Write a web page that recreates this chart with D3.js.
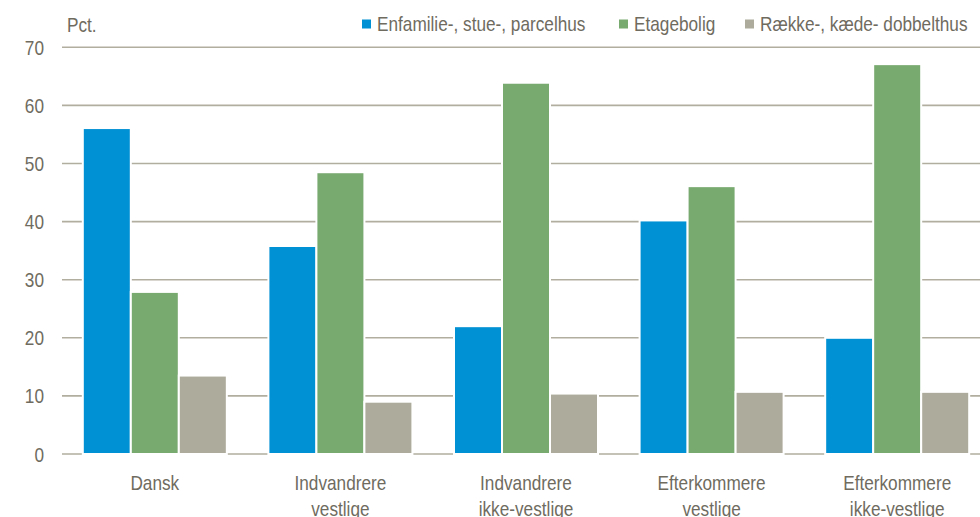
<!DOCTYPE html>
<html>
<meta charset="utf-8">
<style>
    body { margin: 0; background: #fff; }
    svg { display: block; font-family: "Liberation Sans", Arial, sans-serif; }
    .grid line { stroke: #b1ae9f; stroke-width: 1.6px; }
    .lbl { fill: #6f6c5f; font-size: 21px; }
    .bar { stroke: #fff; stroke-width: 2px; }
</style>
<body>
<script src="https://d3js.org/d3.v7.min.js"></script>
<script>

    var width = 980,
        height = 517;

    var categories = [
        ["Dansk"],
        ["Indvandrere", "vestlige"],
        ["Indvandrere", "ikke-vestlige"],
        ["Efterkommere", "vestlige"],
        ["Efterkommere", "ikke-vestlige"]
    ];
    var seriesNames = ["Enfamilie-, stue-, parcelhus", "Etagebolig", "Række-, kæde- dobbelthus"];
    var colors = ["#0090d4", "#78a96f", "#adab9b"];

    var enfamilie = [56.1, 35.8, 22.0, 40.2, 20.0];
    var etagebolig = [27.9, 48.5, 63.9, 46.1, 67.1];
    var raekke = [13.5, 9.0, 10.4, 10.7, 10.7];
    var yTicks = [0, 10, 20, 30, 40, 50, 60, 70];

    var series = [enfamilie, etagebolig, raekke];

    // narrow font is missing, so squeeze the text horizontally
    var squeeze = 0.82;
    function place(x, y) {
        return "translate(" + x + "," + y + ") scale(" + squeeze + ",1)";
    }

    var svg = d3.select("body").append("svg")
        .attr("width", width)
        .attr("height", height);

    var x = d3.scaleBand()
        .domain(d3.range(categories.length))
        .range([62, 990])
        .paddingInner(0.2241)
        .paddingOuter(0.1121);

    var xs = d3.scaleBand()
        .domain(d3.range(series.length))
        .range([0, x.bandwidth()]);

    var y = d3.scaleLinear()
        .domain([0, 70])
        .range([454, 47.3]);

    // gridlines
    svg.append("g").attr("class", "grid")
        .selectAll("line")
        .data(yTicks)
        .enter().append("line")
        .attr("x1", 62)
        .attr("x2", width)
        .attr("y1", function (d) { return y(d); })
        .attr("y2", function (d) { return y(d); });

    // tick labels
    svg.append("g")
        .selectAll("text")
        .data(yTicks)
        .enter().append("text")
        .attr("class", "lbl")
        .attr("transform", function (d) { return place(44, y(d)); })
        .attr("dy", "0.36em")
        .attr("text-anchor", "end")
        .text(function (d) { return d; });

    svg.append("text")
        .attr("class", "lbl")
        .attr("transform", place(67, 32))
        .text("Pct.");

    // bars
    series.forEach(function (vals, si) {
        svg.append("g")
            .selectAll("rect")
            .data(vals)
            .enter().append("rect")
            .attr("class", "bar")
            .attr("fill", colors[si])
            .attr("x", function (d, i) { return x(i) + xs(si); })
            .attr("width", xs.bandwidth())
            .attr("y", function (d) { return y(d); })
            .attr("height", function (d) { return y(0) - y(d); });
    });

    // category labels
    var cat = svg.append("g")
        .selectAll("text")
        .data(categories)
        .enter().append("text")
        .attr("class", "lbl")
        .attr("text-anchor", "middle")
        .attr("transform", function (d, i) { return place(x(i) + x.bandwidth() / 2, 490); });
    cat.selectAll("tspan")
        .data(function (d) { return d; })
        .enter().append("tspan")
        .attr("x", 0)
        .attr("dy", function (d, i) { return i ? 26 : 0; })
        .text(function (d) { return d; });

    // legend
    var legendX = [362, 619, 745];
    var leg = svg.append("g")
        .selectAll("g")
        .data(seriesNames)
        .enter().append("g")
        .attr("transform", function (d, i) { return "translate(" + legendX[i] + ",0)"; });
    leg.append("rect")
        .attr("y", 19.5)
        .attr("width", 9)
        .attr("height", 9)
        .attr("fill", function (d, i) { return colors[i]; });
    leg.append("text")
        .attr("class", "lbl")
        .attr("transform", place(15, 31))
        .text(function (d) { return d; });

</script>
</body>
</html>
